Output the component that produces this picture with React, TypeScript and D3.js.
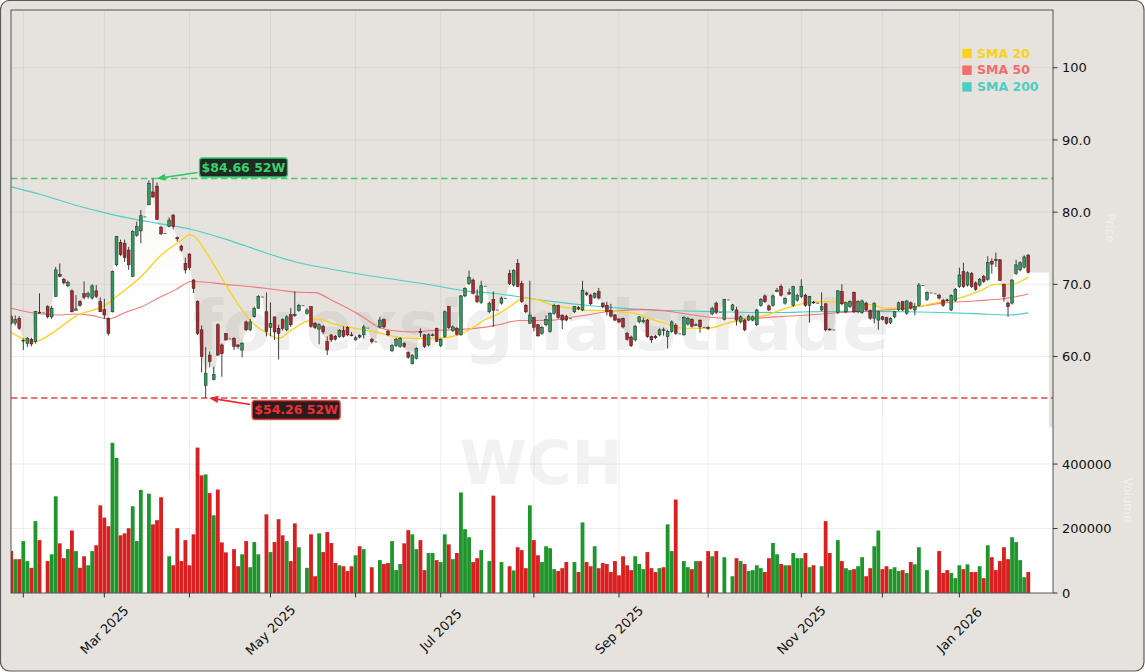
import React from 'react';
import * as d3 from 'd3';

// ---------- DATA ----------
const START_DATE = '2025-01-29';
const HOLIDAYS = ['2025-04-18', '2025-04-21', '2025-05-01', '2025-12-24', '2025-12-25', '2025-12-26', '2025-12-31', '2026-01-01'];

const open = [
  65.52,64.63,65.29,62.20,61.83,62.38,62.06,66.15,66.10,66.90,
  65.50,68.30,71.40,70.70,69.80,69.10,66.40,67.60,68.70,68.30,
  68.10,69.10,67.60,66.50,65.30,66.20,72.70,75.80,75.70,74.75,
  71.10,76.80,77.40,79.40,81.00,82.80,83.60,77.90,77.10,78.00,
  79.60,76.50,75.30,72.90,74.20,70.60,67.60,63.70,56.00,60.20,
  56.80,64.40,61.60,63.20,62.50,62.50,61.60,60.90,64.80,63.70,
  65.50,66.70,68.30,66.20,64.00,65.50,63.90,65.10,63.70,65.80,
  65.80,66.35,67.10,66.00,66.90,64.60,63.80,64.20,62.10,63.00,
  62.80,62.75,63.60,64.05,63.00,62.30,62.90,63.00,64.00,62.40,
  62.10,64.10,65.15,63.50,60.80,61.50,61.40,61.80,60.55,59.00,
  59.75,63.50,63.00,61.60,62.90,63.90,61.50,62.75,66.90,63.60,
  63.90,63.00,68.40,70.10,70.60,68.40,67.50,69.80,66.20,67.90,
  66.50,67.40,68.10,71.50,69.90,72.90,70.10,67.10,64.60,65.40,
  64.40,63.20,64.40,63.45,66.00,67.10,65.75,65.60,65.30,66.20,
  66.80,66.45,68.80,68.50,68.20,69.00,67.40,67.10,66.40,65.75,
  65.20,65.30,63.20,62.70,62.30,64.80,64.80,65.05,62.75,62.80,
  63.00,63.70,62.75,63.45,64.35,63.20,63.00,64.50,65.15,64.30,
  65.05,64.10,64.00,65.90,67.40,66.20,65.15,67.90,66.45,66.45,
  64.80,65.05,65.05,65.05,64.40,67.10,68.40,67.00,67.10,69.00,
  69.70,67.40,68.85,67.10,67.80,68.30,68.50,67.10,67.55,67.45,
  66.45,67.30,63.80,63.75,66.10,69.00,66.20,66.90,68.90,66.20,
  66.10,67.40,66.35,65.30,65.05,65.50,65.40,64.70,65.50,66.50,
  67.60,66.00,67.45,66.45,67.10,69.90,67.90,68.85,68.75,68.50,
  67.80,67.85,66.45,67.80,69.70,71.75,69.90,71.50,70.20,69.90,
  71.10,70.70,73.20,73.45,73.40,70.00,67.40,67.40,71.50,72.00,
  72.35,74.05,
];

const high = [
  65.75,65.70,65.60,62.50,62.70,62.60,66.30,68.75,66.10,67.10,
  67.00,72.40,72.90,70.90,70.50,69.30,68.50,67.80,70.40,69.00,
  70.00,69.90,68.20,68.00,65.40,71.90,76.70,76.20,76.20,75.20,
  77.50,78.70,80.30,79.40,84.40,84.66,84.10,78.10,77.10,79.30,
  79.70,76.60,75.50,73.70,74.30,70.70,67.80,64.30,61.30,60.70,
  58.60,64.60,61.80,63.20,62.50,62.70,61.70,62.00,65.00,65.20,
  66.90,68.50,68.30,68.90,67.50,65.50,64.40,65.30,65.70,66.70,
  69.00,67.30,67.10,66.70,67.00,64.80,64.60,64.40,62.80,63.10,
  63.00,63.80,64.20,64.20,63.40,62.80,63.10,64.40,64.00,62.60,
  62.10,65.50,65.30,63.70,61.70,62.60,62.70,62.00,60.70,60.30,
  61.30,63.90,63.10,63.20,63.20,64.00,62.50,66.40,67.00,64.30,
  64.10,68.50,69.60,71.90,70.80,69.30,70.50,69.80,67.60,69.00,
  66.50,68.30,68.10,72.00,72.10,73.50,70.50,67.30,70.50,65.50,
  64.50,64.20,65.70,66.10,67.30,67.20,65.80,65.80,65.30,67.00,
  67.00,70.50,69.00,68.70,68.90,69.50,67.50,67.60,67.30,65.90,
  65.30,65.40,63.40,62.90,64.40,65.60,65.40,65.20,62.90,63.00,
  63.90,64.00,63.70,65.00,64.60,63.20,65.60,65.50,65.30,64.60,
  65.10,64.10,64.20,66.90,67.60,66.20,68.00,67.90,67.30,66.90,
  65.70,65.20,65.80,65.70,66.60,68.10,68.60,67.20,68.60,69.50,
  70.00,68.20,69.40,69.80,68.70,70.70,68.70,68.40,67.70,67.45,
  68.90,67.40,63.90,63.75,69.20,70.00,67.60,67.80,69.00,67.80,
  67.90,67.60,66.50,67.50,66.30,65.60,65.50,65.40,66.30,67.60,
  67.70,67.80,67.60,67.40,70.20,69.90,69.00,68.85,68.75,68.70,
  68.00,68.00,68.60,69.50,72.30,73.00,71.80,71.70,70.40,70.90,
  71.30,73.90,73.60,74.40,73.50,70.10,67.60,70.70,73.40,73.20,
  74.00,74.20,
];

const low = [
  64.37,64.30,63.70,60.90,61.30,61.40,61.80,65.95,66.10,65.30,
  65.20,68.30,71.00,70.00,69.60,66.10,66.40,66.90,67.90,68.00,
  67.90,68.10,66.20,65.20,62.90,66.10,72.50,73.90,73.10,72.00,
  71.00,76.60,75.70,79.40,81.00,82.00,78.90,76.80,77.10,77.90,
  77.60,75.90,74.50,71.50,72.00,68.80,63.00,57.80,54.26,58.50,
  56.70,60.10,57.20,62.20,62.50,60.90,61.10,59.90,63.50,63.50,
  65.40,66.60,68.30,62.80,62.80,62.30,59.60,63.60,63.50,64.10,
  65.50,66.20,67.10,65.80,64.00,63.80,61.70,63.10,60.20,62.00,
  62.20,62.60,62.60,62.80,62.80,62.20,62.50,62.50,64.00,61.80,
  62.10,63.90,63.90,62.80,60.60,61.30,61.20,61.20,59.70,58.90,
  59.60,62.70,61.20,61.40,62.80,62.00,61.30,62.60,63.80,63.40,
  62.90,62.90,68.20,69.90,68.60,67.40,67.30,69.80,66.00,64.10,
  66.50,67.20,68.10,69.90,69.70,69.60,67.40,66.00,64.60,63.50,
  62.80,63.00,64.20,63.30,65.80,65.20,63.80,64.90,65.30,66.00,
  66.40,66.30,68.40,67.10,68.00,67.90,66.70,65.70,65.40,64.90,
  64.60,63.90,62.20,61.30,62.10,64.60,64.60,62.60,61.90,62.40,
  62.80,62.90,61.10,63.30,63.00,63.20,62.90,64.30,64.00,64.20,
  63.30,64.10,63.70,65.70,65.90,66.20,65.00,67.90,66.30,64.30,
  64.60,63.50,64.90,64.90,64.20,66.90,67.40,66.30,66.90,68.90,
  68.30,67.20,68.50,66.90,67.60,68.10,66.90,64.70,67.30,67.45,
  66.30,63.50,63.60,63.75,65.90,67.10,66.00,66.70,66.00,66.00,
  65.90,66.30,65.10,64.60,63.70,65.00,64.40,64.50,65.30,66.30,
  66.30,65.80,66.50,65.70,66.90,69.90,67.70,68.85,68.75,67.90,
  66.90,67.60,66.30,67.60,69.50,69.50,69.70,69.50,69.10,69.70,
  70.20,70.50,71.50,72.40,70.60,67.60,65.50,67.20,71.30,71.80,
  72.20,71.50,
];

const close = [
  64.60,65.15,63.91,62.25,62.52,61.74,66.21,66.05,66.10,65.50,
  66.70,72.00,71.10,70.20,70.30,66.20,66.60,67.10,68.20,68.70,
  69.80,68.30,66.20,65.75,63.20,71.75,76.60,74.10,73.70,72.70,
  77.30,78.00,79.50,79.40,84.00,82.10,79.00,77.00,77.10,78.90,
  78.00,76.30,74.75,72.00,72.30,69.45,63.20,60.00,57.70,59.30,
  57.50,60.20,60.40,62.30,62.50,61.40,61.40,61.80,63.70,64.80,
  66.70,68.30,68.30,63.50,64.60,63.40,63.20,63.90,65.50,64.40,
  65.70,67.10,67.10,66.45,64.20,64.00,64.40,63.40,60.90,62.30,
  62.40,63.60,62.80,63.00,62.90,62.60,62.70,64.10,64.00,62.05,
  62.10,65.05,64.10,63.00,61.50,62.40,62.50,61.40,59.90,60.20,
  61.10,63.30,61.40,63.00,63.00,62.10,62.40,66.20,64.00,64.10,
  63.10,68.40,69.45,71.00,68.75,67.60,69.80,69.80,67.40,66.40,
  66.50,68.10,68.10,70.10,71.90,69.70,67.60,66.20,65.75,64.05,
  62.85,64.05,65.15,66.00,67.10,65.40,65.05,65.05,65.30,66.90,
  66.60,69.20,68.60,67.30,68.75,68.10,66.90,66.20,65.60,65.05,
  64.80,64.10,62.40,61.50,64.20,65.50,65.00,62.75,62.30,62.60,
  63.70,63.60,63.45,64.80,63.20,63.20,65.40,65.30,64.20,64.40,
  64.10,64.10,63.90,66.70,66.10,66.20,67.90,67.90,67.15,65.05,
  65.50,63.70,65.60,65.50,66.45,67.90,67.60,66.45,68.40,69.20,
  68.50,68.05,68.65,69.70,68.50,69.70,67.10,68.30,67.45,67.45,
  66.90,63.70,63.75,63.75,69.10,67.30,67.45,67.60,66.20,67.60,
  67.70,66.45,65.30,67.40,66.20,65.15,64.60,65.30,66.20,67.45,
  66.45,67.70,66.70,66.90,69.90,69.90,68.85,68.85,68.75,68.10,
  67.10,67.80,68.50,69.30,71.30,69.70,71.60,69.70,69.30,70.70,
  70.40,73.00,72.80,73.30,70.50,68.30,66.90,70.60,72.70,73.00,
  73.80,71.65,
];

const volume = [
  130000,105000,105000,161000,99000,78000,223000,164000,0,99000,
  120000,300000,154000,108000,136000,194000,130000,78000,114000,86000,
  130000,148000,272000,234000,207000,466000,419000,179000,185000,201000,
  269000,161000,320000,0,308000,213000,226000,297000,0,114000,
  86000,201000,99000,164000,86000,182000,451000,365000,368000,310000,
  241000,321000,157000,126000,0,136000,83000,120000,161000,80000,
  158000,120000,0,244000,127000,158000,229000,179000,161000,99000,
  216000,142000,0,78000,182000,52000,185000,127000,189000,155000,
  93000,86000,83000,68000,83000,117000,145000,136000,0,80000,
  0,102000,90000,93000,161000,71000,90000,154000,195000,182000,
  136000,164000,71000,124000,124000,102000,96000,182000,151000,105000,
  124000,312000,198000,173000,96000,108000,133000,0,99000,302000,
  0,96000,0,83000,70000,142000,133000,77000,272000,164000,
  117000,96000,145000,139000,74000,68000,77000,96000,0,96000,
  65000,219000,96000,83000,145000,77000,93000,90000,65000,99000,
  55000,114000,86000,71000,114000,90000,74000,127000,77000,65000,
  77000,80000,213000,130000,290000,0,99000,80000,74000,99000,
  99000,0,130000,114000,130000,0,111000,0,52000,108000,
  99000,90000,68000,71000,86000,77000,65000,108000,155000,120000,
  90000,86000,86000,124000,108000,108000,124000,80000,86000,0,
  83000,223000,124000,0,164000,99000,77000,71000,74000,83000,
  111000,52000,77000,145000,194000,74000,83000,74000,80000,68000,
  71000,62000,96000,89000,142000,0,71000,0,0,130000,
  62000,71000,62000,46000,86000,74000,89000,65000,65000,83000,
  46000,148000,111000,71000,99000,142000,105000,173000,158000,102000,
  49000,65000,
];

// moving averages: [bar index, value]
const sma20: [number, number][] = [
  [0,63.35],[5.8,62.05],[10,63.2],[15.7,65.5],[24,67.4],[26,68.3],[32.2,71.15],[37.1,74.1],[42,76.1],[44.1,76.9],
  [45.3,76.6],[48.6,74.0],[52.7,70.2],[56.8,66.6],[60.1,64.4],[63.3,63.2],[65.9,62.5],[69.2,63.7],[72.5,64.8],[75.8,65.2],
  [79.1,64.6],[84,64.0],[89.8,63.4],[95.5,62.7],[99.6,62.5],[103.8,62.5],[107,62.6],[110.3,63.0],[113.6,63.9],[117,65.1],
  [120.2,65.9],[123.5,67.1],[126.4,68.1],[129.7,67.9],[133.8,67.1],[137.9,66.7],[142,66.4],[147,66.35],[150.2,66.2],[154.3,65.9],
  [158.4,65.1],[162.6,64.4],[165.8,63.9],[170.8,63.9],[173.2,64.0],[176.5,64.6],[181.5,65.15],[186.4,65.75],[190.2,66.5],[192.6,66.9],
  [196.7,67.5],[200.8,67.6],[204.9,67.5],[209,67.3],[213.1,67.1],[215.1,66.7],[219.7,66.7],[223.8,66.9],[228,67.4],[232.1,67.8],
  [236.2,68.5],[239.5,69.2],[242.7,70.0],[246.1,70.0],[247.7,70.1],[251,71.0],
];
const sma50: [number, number][] = [
  [0,66.7],[5.8,66.0],[11.5,65.75],[15.7,65.9],[19.8,65.7],[24,65.2],[28.1,66.1],[32.2,66.9],[36.3,68.1],[40.4,69.2],
  [44.5,70.4],[48.6,70.3],[52.7,70.0],[56.8,69.8],[62.6,69.45],[67.6,69.1],[70.9,68.9],[75,68.85],[79.1,67.8],[84,66.4],
  [87.3,65.3],[90.6,64.1],[93.9,63.6],[98.8,63.4],[103.8,63.6],[108.7,63.7],[112,63.8],[116.1,64.0],[120.2,64.4],[125.5,65.0],
  [129.7,65.0],[133.8,65.05],[137.9,65.4],[142,65.75],[147,66.2],[150.2,66.35],[156,66.5],[160,66.4],[164.2,66.1],[168.3,65.75],
  [173.2,65.4],[176.5,65.3],[183.1,65.3],[188.5,65.5],[196.7,65.75],[204.9,66.1],[213.1,66.35],[221.3,66.7],[229.6,67.4],[237.8,67.7],
  [246.1,68.1],[251,68.66],
];
const sma200: [number, number][] = [
  [0,83.5],[7.5,82.4],[15.7,81.0],[24,79.8],[30.6,79.0],[36.3,78.45],[44.5,77.6],[52.7,76.3],[62.6,74.4],[70.9,73.0],
  [79.1,72.1],[87.3,71.3],[95.5,70.6],[103.8,69.9],[112,69.1],[120.2,68.7],[127.3,68.1],[133.8,67.6],[142,67.1],[150.2,66.7],
  [158.4,66.45],[166.6,66.3],[174.9,66.2],[183.1,66.1],[190.2,66.1],[196.7,66.2],[204.9,66.25],[213.1,66.25],[221.3,66.2],[229.6,66.1],
  [237.8,65.95],[246.1,65.75],[251,66.05],
];

const priceTicks = [60, 70, 80, 90, 100];
const priceTickLabels = ['60.0', '70.0', '80.0', '90.0', '100'];
const volumeTicks = [0, 200000, 400000];
const volumeTickLabels = ['0', '200000', '400000'];

const high52 = 84.66;
const low52 = 54.26;
const high52Label = '$84.66 52W';
const low52Label = '$54.26 52W';
const legendLabels = ['SMA 20', 'SMA 50', 'SMA 200'];
const legendColors = ['#f9d21c', '#f36c6c', '#4ecdc4'];

// ---------- LAYOUT / STYLE ----------
const W = 1145, H = 672;
const PL = 11, PR = 1053, PT = 10, PRICE_B = 427, VOL_B = 593;
const BG = '#e6e3de';
const UP = '#2e9c5c', DOWN = '#b3262b';
const VUP = '#1f962c', VDOWN = '#d91f1f';
const FONT = 'DejaVu Sans, Verdana, sans-serif';

function tradingDays(start: string, n: number, holidays: string[]) {
  const out: Date[] = [];
  const d = new Date(start + 'T12:00:00Z');
  while (out.length < n) {
    const wd = d.getUTCDay();
    const key = d.toISOString().slice(0, 10);
    if (wd !== 0 && wd !== 6 && !holidays.includes(key)) out.push(new Date(d.getTime()));
    d.setUTCDate(d.getUTCDate() + 1);
  }
  return out;
}

export default function App() {
  const n = close.length;
  const dates = tradingDays(START_DATE, n, HOLIDAYS);
  const x = d3.scaleLinear().domain([-0.035, 257.1]).range([PL, PR]);
  const yP = d3.scaleLinear().domain([50.24, 108]).range([PRICE_B, PT]);
  const yV = d3.scaleLinear().domain([0, 515000]).range([VOL_B, PRICE_B]);
  const step = x(1) - x(0);
  const bodyW = step * 0.7;
  const volW = step * 0.94;

  const fmt = d3.utcFormat('%b %Y');
  const monthTicks: { i: number; d: Date }[] = [];
  for (let i = 1; i < n; i++) {
    if (dates[i].getUTCMonth() !== dates[i - 1].getUTCMonth()) monthTicks.push({ i, d: dates[i] });
  }

  const idx = d3.range(n);
  const fillPts: [number, number][] = [[-0.035, close[0]], ...idx.map((i) => [i, close[i]] as [number, number]), [256.1, close[n - 1]]];
  const area = d3.area<[number, number]>().x((d) => x(d[0])).y0(PRICE_B).y1((d) => yP(d[1]));
  const line = d3.line<[number, number]>().x((d) => x(d[0])).y((d) => yP(d[1])).curve(d3.curveMonotoneX);

  const hiIdx = high.indexOf(d3.max(high) as number);
  const loIdx = low.indexOf(d3.min(low) as number);
  const hiTip = { x: x(hiIdx) + 3.5, y: yP(high52) };
  const loTip = { x: x(loIdx) + 3.5, y: yP(low52) };

  const arrow = (tail: { x: number; y: number }, tip: { x: number; y: number }, color: string) => {
    const dx = tip.x - tail.x, dy = tip.y - tail.y;
    const len = Math.hypot(dx, dy);
    const ux = dx / len, uy = dy / len;
    const hl = 9, hw = 3.6;
    const bx = tip.x - ux * hl, by = tip.y - uy * hl;
    const pts = `${tip.x},${tip.y} ${bx - uy * hw},${by + ux * hw} ${bx + uy * hw},${by - ux * hw}`;
    return (
      <g>
        <line x1={tail.x} y1={tail.y} x2={bx} y2={by} stroke={color} strokeWidth={1.6} />
        <polygon points={pts} fill={color} />
      </g>
    );
  };

  const hiBox = { x: hiTip.x + 43, y: hiTip.y - 20.5, w: 88, h: 19 };
  const loBox = { x: loTip.x + 43, y: loTip.y + 2.5, w: 88, h: 19 };

  return (
    <svg width={W} height={H} style={{ position: 'absolute', left: 0, top: 0, fontFamily: FONT }}>
      <defs>
        <clipPath id="plotClip">
          <rect x={PL} y={PT} width={PR - PL} height={VOL_B - PT} />
        </clipPath>
        <linearGradient id="fillGrad" gradientUnits="userSpaceOnUse" x1={0} y1={150} x2={0} y2={PRICE_B}>
          <stop offset="0" stopColor="#ffffff" stopOpacity={0.55} />
          <stop offset="0.45" stopColor="#ffffff" stopOpacity={0.97} />
          <stop offset="1" stopColor="#ffffff" stopOpacity={1} />
        </linearGradient>
      </defs>

      {/* outer frame */}
      <rect x={0.5} y={0.5} width={W - 1.5} height={H - 1.5} rx={9} fill={BG} stroke="#5a5a5a" strokeWidth={1.2} />

      {/* faint axis titles */}
      <text x={1106} y={228} transform="rotate(90 1106 228)" textAnchor="middle" fontSize={12} fill="#ffffff" opacity={0.45}>Price</text>
      <text x={1124} y={500} transform="rotate(90 1124 500)" textAnchor="middle" fontSize={12} fill="#ffffff" opacity={0.45}>Volume</text>

      <g clipPath="url(#plotClip)">
        {/* volume panel background */}
        <rect x={PL} y={PRICE_B} width={PR - PL} height={VOL_B - PRICE_B} fill="#ffffff" />
        {/* price area fill */}
        <path d={area(fillPts) as string} fill="url(#fillGrad)" />

        {/* grid */}
        {monthTicks.map((t) => (
          <line key={'vg' + t.i} x1={x(t.i)} x2={x(t.i)} y1={PT} y2={VOL_B} stroke="#9a9a9a" strokeOpacity={0.22} strokeWidth={0.8} />
        ))}
        {priceTicks.map((p) => (
          <line key={'pg' + p} x1={PL} x2={PR} y1={yP(p)} y2={yP(p)} stroke="#9a9a9a" strokeOpacity={0.22} strokeWidth={0.8} />
        ))}
        {volumeTicks.filter((v) => v > 0).map((v) => (
          <line key={'vgl' + v} x1={PL} x2={PR} y1={yV(v)} y2={yV(v)} stroke="#9a9a9a" strokeOpacity={0.22} strokeWidth={0.8} />
        ))}

        {/* watermarks */}
        <text x={541} y={350} textAnchor="middle" fontSize={70} fontWeight="bold" fill="#8a8a8a" opacity={0.12}>forexsignalstrade</text>
        <text x={541} y={484} textAnchor="middle" fontSize={61} fontWeight="bold" fill="#8a8a8a" opacity={0.1}>WCH</text>

        {/* moving averages */}
        <path d={line(sma200) as string} fill="none" stroke={legendColors[2]} strokeWidth={1.1} />
        <path d={line(sma50) as string} fill="none" stroke={legendColors[1]} strokeWidth={1.1} strokeOpacity={0.9} />
        <path d={line(sma20) as string} fill="none" stroke={legendColors[0]} strokeWidth={1.3} />

        {/* 52w lines */}
        <line x1={PL} x2={PR} y1={yP(high52)} y2={yP(high52)} stroke="#4cc870" strokeWidth={1.5} strokeDasharray="6.5,3.5" />
        <line x1={PL} x2={PR} y1={yP(low52)} y2={yP(low52)} stroke="#e04a4a" strokeWidth={1.5} strokeDasharray="6.5,3.5" />

        {/* candles */}
        {idx.map((i) => {
          const up = close[i] >= open[i];
          const cx = x(i);
          const yo = yP(open[i]), yc = yP(close[i]);
          const top = Math.min(yo, yc);
          const hgt = Math.max(0.9, Math.abs(yo - yc));
          const flat = volume[i] === 0;
          return (
            <g key={'c' + i}>
              <line x1={cx} x2={cx} y1={yP(high[i])} y2={yP(low[i])} stroke="#2b2b2b" strokeWidth={0.9} />
              <rect
                x={cx - bodyW / 2}
                y={top}
                width={bodyW}
                height={hgt}
                fill={flat ? '#555' : up ? UP : DOWN}
                stroke={flat ? 'none' : '#222'}
                strokeWidth={0.5}
              />
            </g>
          );
        })}

        {/* volume bars */}
        {idx.map((i) =>
          volume[i] > 0 ? (
            <rect
              key={'v' + i}
              x={x(i) - volW / 2}
              y={yV(volume[i])}
              width={volW}
              height={VOL_B - yV(volume[i])}
              fill={close[i] >= open[i] ? VUP : VDOWN}
            />
          ) : null
        )}
      </g>

      {/* annotations */}
      {arrow({ x: hiBox.x - 2, y: hiBox.y + 14.5 }, hiTip, '#2ec45e')}
      <rect x={hiBox.x} y={hiBox.y} width={hiBox.w} height={hiBox.h} rx={3} fill="#1f2a23" stroke="#2ecc71" strokeWidth={1.3} />
      <text x={hiBox.x + hiBox.w / 2} y={hiBox.y + hiBox.h / 2} dy="0.36em" textAnchor="middle" fontSize={12.5} fontWeight="bold" fill="#3ad16f">{high52Label}</text>

      {arrow({ x: loBox.x - 2, y: loBox.y + 4 }, loTip, '#e8262e')}
      <rect x={loBox.x} y={loBox.y} width={loBox.w} height={loBox.h} rx={3} fill="#2b1d1d" stroke="#e04848" strokeWidth={1.3} />
      <text x={loBox.x + loBox.w / 2} y={loBox.y + loBox.h / 2} dy="0.36em" textAnchor="middle" fontSize={12.5} fontWeight="bold" fill="#ee2f35">{low52Label}</text>

      {/* spines */}
      <rect x={PL} y={PT} width={PR - PL} height={VOL_B - PT} fill="none" stroke="#555" strokeWidth={1} />

      {/* right price axis */}
      {priceTicks.map((p, k) => (
        <g key={'pt' + p}>
          <line x1={PR} x2={PR + 4.5} y1={yP(p)} y2={yP(p)} stroke="#333" strokeWidth={1} />
          <text x={PR + 9} y={yP(p)} dy="0.35em" fontSize={13} fill="#111">{priceTickLabels[k]}</text>
        </g>
      ))}
      {/* right volume axis */}
      {volumeTicks.map((v, k) => (
        <g key={'vt' + v}>
          <line x1={PR} x2={PR + 4.5} y1={yV(v)} y2={yV(v)} stroke="#333" strokeWidth={1} />
          <text x={PR + 9} y={yV(v)} dy="0.35em" fontSize={13} fill="#111">{volumeTickLabels[k]}</text>
        </g>
      ))}

      {/* x axis */}
      {monthTicks.map((t) => (
        <g key={'xt' + t.i}>
          <line x1={x(t.i)} x2={x(t.i)} y1={VOL_B} y2={VOL_B + 4.5} stroke="#333" strokeWidth={1} />
          {t.d.getUTCMonth() % 2 === 0 ? (
            <text
              x={x(t.i)}
              y={630}
              transform={`rotate(-45 ${x(t.i)} 630)`}
              textAnchor="middle"
              dy="0.35em"
              fontSize={13}
              fill="#111"
            >
              {fmt(t.d)}
            </text>
          ) : null}
        </g>
      ))}

      {/* legend */}
      {legendLabels.map((lab, k) => (
        <g key={'lg' + k}>
          <rect x={962.3} y={48.8 + k * 16.7} width={9.4} height={9.4} fill={legendColors[k]} />
          <text x={977} y={57.5 + k * 16.7} fontSize={12.5} fontWeight="bold" fill={legendColors[k]}>{lab}</text>
        </g>
      ))}
    </svg>
  );
}
